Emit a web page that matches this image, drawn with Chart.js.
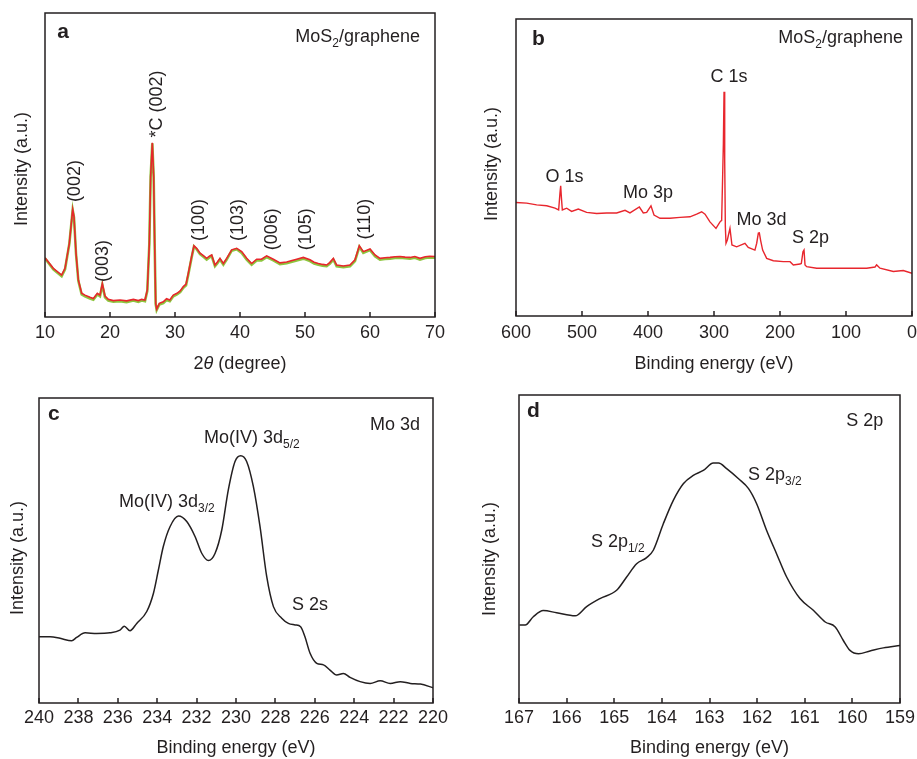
<!DOCTYPE html>
<html><head><meta charset="utf-8">
<script src="https://cdn.jsdelivr.net/npm/chart.js@4.4.0/dist/chart.umd.min.js"></script>
<style>
html,body{margin:0;padding:0;background:#fff;}
#wrap{position:relative;width:917px;height:759px;overflow:hidden;background:#fff;}
canvas{position:absolute;display:block;}
</style></head><body>
<div id="wrap">
<canvas id="ca" width="458" height="380" style="left:0;top:0;width:458px;height:380px"></canvas>
<canvas id="cb" width="459" height="380" style="left:458px;top:0;width:459px;height:380px"></canvas>
<canvas id="cc" width="458" height="379" style="left:0;top:380px;width:458px;height:379px"></canvas>
<canvas id="cd" width="459" height="379" style="left:458px;top:380px;width:459px;height:379px"></canvas>
</div>
<script>
// ---------- data (a) XRD ----------
const xrdAngle = [10,11.28,12.56,13.08,13.74,14.26,14.46,14.77,15.13,15.64,16.15,16.92,17.44,18.05,18.46,18.82,19.23,19.74,20.51,21.54,22.56,23.59,24.36,24.87,25.38,25.74,26.05,26.25,26.51,26.72,26.87,27.03,27.18,27.59,28.2,28.7,29.2,29.74,30.3,30.8,31.28,31.7,32.05,32.56,32.92,33.33,33.85,34.37,34.87,35.3,35.64,36.15,36.5,36.92,37.44,37.95,38.72,39.49,40.26,41.03,41.79,42.56,43.3,44.1,45.13,46.15,47.18,48.0,48.72,49.74,50.77,51.4,52.05,52.7,53.33,53.8,54.36,54.87,55.9,56.92,57.69,58.36,58.97,60.0,60.77,61.54,62.3,63.08,63.85,64.62,65.4,66.15,66.9,67.69,68.5,69.2,70];
const xrdRed = [19.5,16.0,13.8,16.0,24.2,35.4,33.0,21.0,12.2,7.8,7.2,6.5,6.1,7.8,7.2,11.0,6.9,5.8,5.4,5.6,5.3,5.8,5.4,5.8,5.6,8.9,24.2,46.1,57.3,46.1,24.2,4.5,2.6,4.5,5.0,6.0,5.6,7.2,7.8,8.6,10.0,10.8,14.4,19.9,23.4,22.6,21.0,20.2,19.3,20.0,20.4,17.1,18.0,19.3,17.6,19.3,22.1,22.6,21.5,19.3,17.6,19.0,19.0,20.1,19.0,17.8,18.1,18.6,19.0,19.6,18.8,18.0,17.6,17.3,17.1,17.9,19.3,17.1,16.8,17.1,18.8,23.4,21.5,22.4,20.4,19.3,19.5,19.6,19.8,19.9,19.7,19.6,19.9,19.3,19.8,20.0,19.9];
const xrdGreen = [19.3,15.7,13.4,15.7,24.0,35.2,32.8,20.8,11.9,7.4,6.8,6.1,5.7,7.4,6.8,10.6,6.5,5.4,5.0,5.2,4.9,5.4,5.0,5.4,5.2,8.6,24.0,46.0,57.1,46.0,24.0,4.2,2.3,4.1,4.6,5.6,5.2,6.8,7.4,8.2,9.6,10.4,14.0,19.6,23.2,22.3,20.7,19.8,18.9,19.6,20.0,16.7,17.6,18.9,17.2,18.9,21.8,22.3,21.1,18.9,17.2,18.6,18.6,19.7,18.6,17.4,17.7,18.2,18.6,19.2,18.4,17.6,17.2,16.9,16.7,17.5,18.9,16.7,16.4,16.7,18.4,23.1,21.1,22.0,20.0,18.9,19.1,19.2,19.4,19.5,19.3,19.2,19.5,18.9,19.4,19.6,19.5];
const xrdTicks = [10,20,30,40,50,60,70];

// ---------- data (b) XPS survey ----------
const surveyBE = [600,583.8,568.7,553.5,540.9,535.4,533.4,532.3,531.3,529.8,523.2,515.7,505.6,493,477.8,462.6,447.5,434.8,427.3,413.1,407.1,402.0,395.5,390.9,381.8,366.7,351.5,336.4,326.3,318.7,313.6,306.1,297.0,290.9,288.4,285.8,284.8,283.8,282.8,281.8,279.8,275.8,272.8,265.7,253.1,248.1,238,235.3,232.8,231.3,229.3,226.3,220.2,210.1,195.0,184.8,179.8,169.7,167.7,165.2,163.6,162.1,159.6,144.4,119.2,94.0,68.7,56,53.6,48.5,28.3,13.2,0];
const surveyInt = [38.2,38.0,37.4,37.1,36.3,35.7,41.3,43.8,40.2,35.7,36.3,35.2,36.0,34.9,34.5,34.7,34.7,35.6,34.7,36.7,34.7,34.9,37.1,34.0,32.9,32.9,33.2,33.4,34.3,35.1,34.3,31.7,29.5,31.7,32.2,58.1,75.5,52.5,30.0,24.5,25.6,29.5,23.9,23.3,24.5,23.1,22.2,24.5,27.9,28.0,25.4,22.2,19.4,18.6,18.3,18.3,17.2,17.5,17.7,21.6,22.2,17.2,16.6,16.1,16.1,16.1,16.1,16.5,17.2,16.1,15.0,15.3,14.4];
const surveyTicks = [0,100,200,300,400,500,600];

// ---------- data (c) Mo 3d ----------
const mo3dBE = [240,239.44,238.93,238.34,238.09,237.66,237.07,236.40,235.89,235.67,235.38,235.04,234.53,234.19,233.94,233.69,233.35,232.92,232.5,232.08,231.74,231.40,231.06,230.72,230.39,230.05,229.76,229.46,229.12,228.78,228.44,228.10,227.68,227.34,227.0,226.72,226.50,226.24,225.90,225.56,225.23,224.89,224.55,224.21,223.70,223.19,222.68,222.17,221.66,221.15,220.64,220.0];
const mo3dInt = [21.7,21.7,21.2,20.4,21.5,23.0,22.8,23.0,23.9,25.2,23.7,26.1,30.0,36.0,43.6,51.3,57.8,61.3,59.5,54.6,49.1,46.7,49.1,56.8,69.9,79.2,81.1,79.2,71.0,57.8,41.4,31.6,27.8,26.1,25.6,25.0,21.7,16.3,13.0,12.5,10.8,9.2,9.7,8.4,7.0,6.4,7.3,6.4,7.0,6.4,6.2,5.0];
const mo3dTicks = [220,222,224,226,228,230,232,234,236,238,240];

// ---------- data (d) S 2p ----------
const s2pBE = [166.99,166.87,166.70,166.49,166.21,165.82,165.58,165.30,164.95,164.74,164.53,164.32,164.18,163.97,163.76,163.55,163.34,163.13,162.92,162.81,162.64,162.39,162.18,162.01,161.80,161.59,161.38,161.10,160.82,160.57,160.36,160.19,160.05,159.87,159.63,159.35,159.0];
const s2pInt = [25.3,25.3,28.0,30.0,29.3,28.3,31.3,33.9,36.6,40.9,45.2,47.2,49.6,58.2,65.8,71.2,73.9,75.5,77.9,77.9,76.1,72.8,69.6,64.7,56.0,48.4,40.9,33.9,30.1,26.3,24.7,20.3,17.1,16.0,16.9,17.9,18.7];
const s2pTicks = [159,160,161,162,163,164,165,166,167];

// ---------- rendering ----------
const FAM = "'Liberation Sans', Arial, Helvetica, sans-serif";
const INK = '#231f20';
Chart.defaults.font.family = FAM;
Chart.defaults.font.size = 18;
Chart.defaults.color = INK;

const framePlugin = {
  id: 'frame',
  afterDatasetsDraw(chart) {
    const {ctx, chartArea: a} = chart;
    const x = chart.scales.x;
    ctx.save();
    ctx.strokeStyle = INK; ctx.lineWidth = 1.5;
    ctx.strokeRect(a.left, a.top, a.right - a.left, a.bottom - a.top);
    x.ticks.forEach(t => {
      const px = Math.round(x.getPixelForValue(t.value));
      ctx.beginPath(); ctx.moveTo(px, a.bottom); ctx.lineTo(px, a.bottom - 5); ctx.stroke();
    });
    ctx.restore();
  }
};

const notesPlugin = {
  id: 'notes',
  afterDraw(chart, args, opts) {
    const {ctx} = chart;
    const x = chart.scales.x, y = chart.scales.y;
    (opts.items || []).forEach(it => {
      const px = it.abs ? it.x : x.getPixelForValue(it.x);
      const py = it.abs ? it.y : y.getPixelForValue(it.y);
      const fontOf = k => k === 'b' ? 'bold 21px ' + FAM : k === 's' ? '12px ' + FAM : k === 'i' ? 'italic 18px ' + FAM : '18px ' + FAM;
      let total = 0;
      const widths = it.parts.map(([t, k]) => { ctx.font = fontOf(k); const w = ctx.measureText(t).width; total += w; return w; });
      ctx.save();
      ctx.translate(px, py);
      if (it.rot) ctx.rotate(-Math.PI / 2);
      ctx.fillStyle = INK;
      ctx.textAlign = 'left';
      ctx.textBaseline = it.mid ? 'middle' : 'alphabetic';
      let cx = it.align === 'right' ? -total : it.align === 'center' ? -total / 2 : 0;
      it.parts.forEach(([t, k], i) => {
        ctx.font = fontOf(k);
        ctx.fillText(t, cx, k === 's' ? 5 : 0);
        cx += widths[i];
      });
      ctx.restore();
    });
  }
};

function makeChart(id, o) {
  // first dataset is drawn on top by Chart.js
  const datasets = o.series.map(s => ({
    data: o.xs.map((v, i) => ({x: v, y: s.ys[i]})),
    borderColor: s.color, borderWidth: s.width, pointRadius: 0, fill: false,
    tension: o.smooth ? 0.4 : 0, cubicInterpolationMode: o.smooth ? 'monotone' : 'default'
  }));
  const notes = o.notes.concat([{abs: true, x: o.yTitlePos[0], y: o.yTitlePos[1], rot: true, mid: true, align: 'center', parts: [['Intensity (a.u.)', '']]}]);
  return new Chart(document.getElementById(id), {
    type: 'line',
    data: {datasets},
    plugins: [framePlugin, notesPlugin],
    options: {
      responsive: false, animation: false, devicePixelRatio: 1,
      layout: {padding: o.pad},
      plugins: {legend: {display: false}, tooltip: {enabled: false}, notes: {items: notes}},
      scales: {
        x: {
          type: 'linear', min: o.xMin, max: o.xMax, reverse: o.reverse,
          afterBuildTicks: s => { s.ticks = o.ticks.map(v => ({value: v})); },
          ticks: {padding: o.tickPad, maxRotation: 0, autoSkip: false, color: INK, font: {size: 18}},
          grid: {display: false, drawTicks: false}, border: {display: false},
          title: o.xTitle ? {display: true, text: o.xTitle, color: INK, font: {size: 18}, padding: {top: 0, bottom: o.xTitlePad}} : {display: false},
          afterFit: s => { s.height = o.xH; }
        },
        y: {
          min: 0, max: 100,
          ticks: {display: false}, grid: {display: false, drawTicks: false}, border: {display: false},
          title: {display: false},
          afterFit: s => { s.width = o.yW; }
        }
      }
    }
  });
}

makeChart('ca', {
  xs: xrdAngle, series: [{ys: xrdRed, color: '#e8262d', width: 1.6}, {ys: xrdGreen, color: '#8dc63f', width: 2.6}],
  xMin: 10, xMax: 70, reverse: false, ticks: xrdTicks, smooth: false,
  pad: {left: 0, top: 13, right: 23, bottom: 0}, yW: 45, xH: 63, tickPad: 5, yTitlePos: [22, 169], xTitle: null,
  notes: [
    {x: 11.9, y: 91.8, parts: [['a', 'b']]},
    {x: 67.7, y: 90.5, align: 'right', parts: [['MoS', ''], ['2', 's'], ['/graphene', '']]},
    {x: 14.6, y: 44.7, rot: true, mid: true, align: 'center', parts: [['(002)', '']]},
    {x: 18.9, y: 18.4, rot: true, mid: true, align: 'center', parts: [['(003)', '']]},
    {x: 27.2, y: 70.1, rot: true, mid: true, align: 'center', parts: [['*C (002)', '']]},
    {x: 33.7, y: 31.9, rot: true, mid: true, align: 'center', parts: [['(100)', '']]},
    {x: 39.7, y: 31.9, rot: true, mid: true, align: 'center', parts: [['(103)', '']]},
    {x: 44.9, y: 28.9, rot: true, mid: true, align: 'center', parts: [['(006)', '']]},
    {x: 50.15, y: 28.9, rot: true, mid: true, align: 'center', parts: [['(105)', '']]},
    {x: 59.2, y: 32.2, rot: true, mid: true, align: 'center', parts: [['(110)', '']]},
    {x: 40, y: -15.6, mid: true, align: 'center', parts: [['2', ''], ['\u03b8', 'i'], [' (degree)', '']]}
  ]
});

makeChart('cb', {
  xs: surveyBE, series: [{ys: surveyInt, color: '#e8262d', width: 1.4}],
  xMin: 0, xMax: 600, reverse: true, ticks: surveyTicks, smooth: false,
  pad: {left: 0, top: 19, right: 5, bottom: 0}, yW: 58, xH: 64, tickPad: 6, yTitlePos: [34.5, 164], xTitle: 'Binding energy (eV)', xTitlePad: 5,
  notes: [
    {x: 575.8, y: 91.2, parts: [['b', 'b']]},
    {x: 13.6, y: 91.9, align: 'right', parts: [['MoS', ''], ['2', 's'], ['/graphene', '']]},
    {x: 277.3, y: 78.8, align: 'center', parts: [['C 1s', '']]},
    {x: 526.5, y: 45.1, align: 'center', parts: [['O 1s', '']]},
    {x: 400, y: 39.7, align: 'center', parts: [['Mo 3p', '']]},
    {x: 228, y: 30.6, align: 'center', parts: [['Mo 3d', '']]},
    {x: 153.8, y: 24.6, align: 'center', parts: [['S 2p', '']]}
  ]
});

makeChart('cc', {
  xs: mo3dBE, series: [{ys: mo3dInt, color: INK, width: 1.5}],
  xMin: 220, xMax: 240, reverse: true, ticks: mo3dTicks, smooth: true,
  pad: {left: 0, top: 18, right: 25, bottom: 0}, yW: 39, xH: 56, tickPad: 4.5, yTitlePos: [18.5, 178], xTitle: 'Binding energy (eV)', xTitlePad: 0,
  notes: [
    {x: 239.54, y: 92.8, parts: [['c', 'b']]},
    {x: 220.66, y: 89.5, align: 'right', parts: [['Mo 3d', '']]},
    {x: 231.62, y: 85.2, parts: [['Mo(IV) 3d', ''], ['5/2', 's']]},
    {x: 235.94, y: 64.3, parts: [['Mo(IV) 3d', ''], ['3/2', 's']]},
    {x: 227.16, y: 30.5, parts: [['S 2s', '']]}
  ]
});

makeChart('cd', {
  xs: s2pBE, series: [{ys: s2pInt, color: INK, width: 1.5}],
  xMin: 159, xMax: 167, reverse: true, ticks: s2pTicks, smooth: true,
  pad: {left: 0, top: 15, right: 17, bottom: 0}, yW: 61, xH: 56, tickPad: 4.5, yTitlePos: [32.5, 179], xTitle: 'Binding energy (eV)', xTitlePad: 0,
  notes: [
    {x: 166.83, y: 92.9, parts: [['d', 'b']]},
    {x: 159.35, y: 89.9, align: 'right', parts: [['S 2p', '']]},
    {x: 162.19, y: 72.4, parts: [['S 2p', ''], ['3/2', 's']]},
    {x: 165.49, y: 50.6, parts: [['S 2p', ''], ['1/2', 's']]}
  ]
});
</script>
</body></html>
